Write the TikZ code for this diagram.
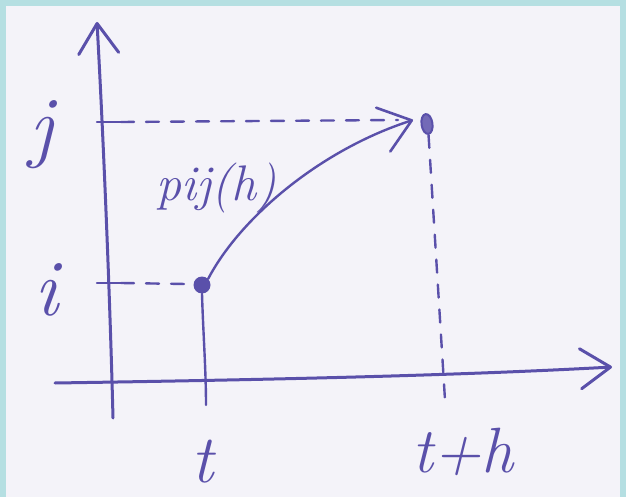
\documentclass[tikz,border=0pt]{standalone}
\usepackage{fontspec}
\usetikzlibrary{arrows.meta,shapes.geometric}
\definecolor{ink}{HTML}{5A50AA}
\definecolor{paper}{HTML}{F4F3F9}
\definecolor{frame}{HTML}{B5DFE2}
\begin{document}
\begin{tikzpicture}[x=1pt,y=-1pt,
  inkline/.style={draw=ink,line width=3pt,line cap=round,line join=round},
  thinline/.style={draw=ink,line width=2.4pt,line cap=round,line join=round},
  dashline/.style={draw=ink,line width=2.4pt,line cap=round,dash pattern=on 13pt off 12pt},
  barb/.style={-{Straight Barb[length=30pt,width=40pt,line width=3pt,round]}},
  cbarb/.style={-{Straight Barb[length=30pt,width=46pt,line width=2.6pt,round]}},
  lab/.style={text=ink,inner sep=0pt},
  dotnode/.style={circle,fill=ink,inner sep=0pt,minimum size=17pt},
  ovalnode/.style={ellipse,draw=ink,fill=ink!85,line width=2pt,inner sep=0pt,minimum width=11pt,minimum height=20pt}]
\useasboundingbox (0,0) rectangle (626,497);
\fill[frame] (0,0) rectangle (626,497);
\fill[paper] (6,6) rectangle (620,497);

% axes
\coordinate (yb) at (113,418);
\coordinate (yt) at (97,22);
\coordinate (xl) at (55,383);
\coordinate (xr) at (612,367);
\draw[inkline,barb] (yb) .. controls (110,300) and (104,150) .. (yt);
\draw[inkline,barb] (xl) .. controls (250,380) and (450,376) .. (xr);

% ticks
\coordinate (jtl) at (97,122);
\coordinate (jtr) at (121,122);
\coordinate (itl) at (97,283);
\coordinate (itr) at (121,283);
\draw[thinline] (jtl) -- (jtr);
\draw[thinline] (itl) -- (itr);

% points
\node[dotnode] (pi) at (202,285) {};
\node[ovalnode,rotate=8] (pj) at (427,124) {};

% dashed guides
\coordinate (jend) at (398,120);
\coordinate (iend) at (186,284);
\coordinate (jbot) at (445,400);
\coordinate (ibot) at (206,405);
\draw[dashline] (jtr) -- (jend);
\draw[dashline] (itr) -- (iend);
\draw[dashline] (pj.south) -- (jbot);
\draw[thinline] (pi.south) .. controls (203,330) and (206,370) .. (ibot);

% transition curve
\coordinate (ctip) at (413,120);
\draw[thinline,cbarb] (pi.north east) .. controls (240,218) and (320,150) .. (ctip);

% labels
\node[lab,font=\fontsize{80}{82}\selectfont\itshape] (lj) at (41,135) {j};
\node[lab,font=\fontsize{80}{82}\selectfont\itshape] (li) at (46,290) {i};
\node[lab,font=\fontsize{68}{70}\selectfont\itshape] (lt) at (203,462) {t};
\node[lab,font=\fontsize{64}{70}\selectfont\itshape] (lth) at (463,452) {t+h};
\node[lab,font=\fontsize{50}{54}\selectfont\itshape] (lp) at (216,188) {pij(h)};
\end{tikzpicture}
\end{document}
